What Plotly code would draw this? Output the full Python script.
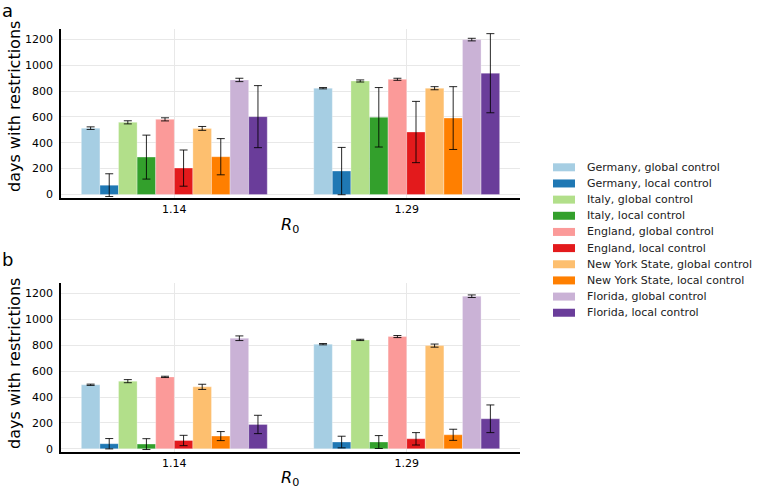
import plotly.graph_objects as go

categories = ["1.14", "1.29"]
series_names = [
    "Germany, global control", "Germany, local control",
    "Italy, global control", "Italy, local control",
    "England, global control", "England, local control",
    "New York State, global control", "New York State, local control",
    "Florida, global control", "Florida, local control",
]
colors = ["#a6cee3", "#1f78b4", "#b2df8a", "#33a02c", "#fb9a99",
          "#e31a1c", "#fdbf6f", "#ff7f00", "#cab2d6", "#6a3d9a"]

# panel a: values at R0 = 1.14 and 1.29, with error half-widths
a_vals = [[513, 822], [72, 181], [558, 878], [289, 597], [581, 891],
          [204, 483], [511, 822], [292, 591], [886, 1198], [602, 938]]
a_errs = [[10, 5], [88, 183], [12, 8], [170, 230], [12, 8],
          [140, 237], [15, 12], [140, 243], [13, 10], [240, 306]]
# panel b
b_vals = [[495, 809], [39, 52], [523, 842], [36, 52], [556, 868],
          [64, 77], [479, 798], [98, 108], [855, 1180], [188, 232]]
b_errs = [[5, 5], [40, 45], [12, 5], [42, 50], [5, 8],
          [40, 48], [20, 12], [35, 43], [18, 10], [71, 107]]
y_ticks = [0, 200, 400, 600, 800, 1000, 1200]

W, H = 760, 497
ML, MR, MT, MB = 61, 240, 29, 45
PW, PH = W - ML - MR, H - MT - MB


def px(x):
    return (x - ML) / PW


def py(y):
    return (H - MB - y) / PH


fig = go.Figure()
for panel, (vals, errs) in enumerate([(a_vals, a_errs), (b_vals, b_errs)]):
    xa = "x" if panel == 0 else "x2"
    ya = "y" if panel == 0 else "y2"
    for i, name in enumerate(series_names):
        fig.add_trace(go.Bar(
            x=categories, y=vals[i], name=name,
            marker=dict(color=colors[i], line=dict(width=0.6, color="rgba(255,255,255,0.5)")),
            error_y=dict(type="data", array=errs[i], color="rgba(0,0,0,0.85)", thickness=1, width=4),
            xaxis=xa, yaxis=ya, showlegend=False, offsetgroup=str(i),
        ))

font = "DejaVu Sans"
xcommon = dict(type="category", range=[-0.4875, 1.4875], showgrid=True, gridcolor="#e8e8e8",
               gridwidth=1, showline=True, linecolor="black", linewidth=1.5, ticks="",
               tickfont=dict(size=11, family=font, color="black"), zeroline=False,
               automargin=False)
ycommon = dict(range=[-25, 1280], tickvals=y_ticks,
               showgrid=True, gridcolor="#e8e8e8", gridwidth=1, showline=True,
               linecolor="black", linewidth=1.5, ticks="", zeroline=False,
               tickfont=dict(size=11, family=font, color="black"), automargin=False,
               ticklabelstandoff=4)

annotations = [
    dict(text="a", x=px(0), y=py(11), xanchor="left", yanchor="middle", font=dict(size=18, family=font)),
    dict(text="b", x=px(0), y=py(259), xanchor="left", yanchor="middle", font=dict(size=18, family=font)),
    dict(text="<i>R</i><sub>0</sub>", x=px(290), y=py(225), xanchor="center", yanchor="middle",
         font=dict(size=16, family=font)),
    dict(text="<i>R</i><sub>0</sub>", x=px(290), y=py(478), xanchor="center", yanchor="middle",
         font=dict(size=16, family=font)),
    dict(text="days with restrictions", x=px(14), y=py(107), textangle=-90, xanchor="center",
         yanchor="middle", font=dict(size=16, family=font)),
    dict(text="days with restrictions", x=px(14), y=py(364), textangle=-90, xanchor="center",
         yanchor="middle", font=dict(size=16, family=font)),
]
shapes = []
# manual legend built from series_names / colors
for i, name in enumerate(series_names):
    cy = 167.3 + 16.16 * i
    shapes.append(dict(type="rect", xref="paper", yref="paper", x0=px(553), x1=px(575),
                       y0=py(cy + 4), y1=py(cy - 4), fillcolor=colors[i], line=dict(width=0)))
    annotations.append(dict(text=name, x=px(585), y=py(cy), xanchor="left", yanchor="middle",
                            font=dict(size=11, family=font, color="#222")))
for a in annotations:
    a.update(xref="paper", yref="paper", showarrow=False)

fig.update_layout(
    width=W, height=H, margin=dict(l=ML, r=MR, t=MT, b=MB),
    paper_bgcolor="white", plot_bgcolor="white",
    barmode="group", bargap=0.2, bargroupgap=0,
    font=dict(family=font, color="black"),
    showlegend=False,
    xaxis=dict(domain=[0, 1], anchor="y", **xcommon),
    yaxis=dict(domain=[(H - MB - 197.7) / PH, 1], anchor="x", **ycommon),
    xaxis2=dict(domain=[0, 1], anchor="y2", **xcommon),
    yaxis2=dict(domain=[0, (H - MB - 283.3) / PH], anchor="x2", **ycommon),
    annotations=annotations,
    shapes=shapes,
)

fig.write_html("out.html", config={"displayModeBar": False},
               post_script="document.body.style.margin='0';document.body.style.padding='0';")
